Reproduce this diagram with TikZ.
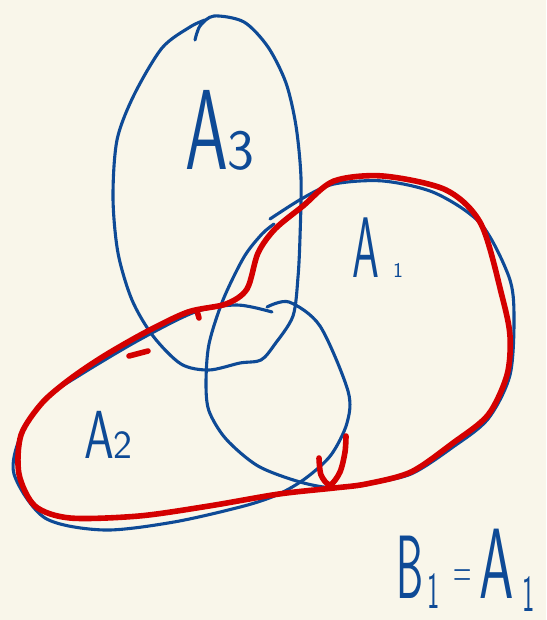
\documentclass[tikz,border=0pt]{standalone}
\usetikzlibrary{calc}
\definecolor{paper}{RGB}{249,246,234}
\definecolor{inkblue}{RGB}{14,74,150}
\definecolor{inkred}{RGB}{212,0,0}

\begin{document}
\begin{tikzpicture}[x=1pt,y=-1pt,
  bluepen/.style={inkblue,line width=3.1pt,line cap=round,line join=round},
  redpen/.style={inkred,line width=5.6pt,line cap=round,line join=round},
  lbl/.style={inkblue,font=\sffamily,inner sep=0pt,anchor=base west}]
  \fill[paper] (0,0) rectangle (546,620);
  \useasboundingbox (0,0) rectangle (546,620);
  \draw[bluepen] plot[smooth] coordinates {(195,40) (200,26) (214,16) (244,22) (268,47) (286,83) (296,126) (301,178) (300,237) (298,277) (293,316) (275,344) (261,360) (240,363) (209,370) (181,364) (153,336) (132,300) (118,253) (113,198) (117,140) (134,95) (162,48) (190,27) (205,20)};
  \draw[bluepen] plot[smooth] coordinates {(270,219) (303,198) (334,184) (383,181) (435,193) (481,224) (509,277) (514,316) (510,375) (488,419) (453,447) (411,474) (366,484) (334,488) (300,482) (258,466) (226,439) (209,411) (206,383) (209,344) (223,300) (244,257) (262,234) (274,224)};
  \draw[bluepen] plot[smooth] coordinates {(267,307) (289,302) (320,326) (348,391) (347,423) (331,455) (306,478) (279,494) (244,506) (174,522) (104,530) (45,518) (14,474) (21,435) (45,399) (80,375) (139,340) (195,312) (237,305) (272,312)};
  \draw[redpen] plot[smooth cycle] coordinates {(334,181) (383,176) (446,190) (481,224) (502,296) (510,336) (507,375) (488,415) (453,443) (411,472) (366,484) (334,488) (279,494) (209,506) (139,516) (70,518) (35,506) (19,474) (21,435) (42,403) (70,379) (104,356) (146,332) (188,312) (226,304) (247,289) (258,253) (275,229) (303,206)};
  \draw[redpen] plot[smooth] coordinates {(319,458) (321,475) (330,485) (340,472) (345,452) (346,436)};
  \draw[redpen] (197,311) -- (199,318);
  \draw[redpen] (129,356) -- (148,351);
  \node[lbl] (labelAthree) at (185,170) {\scalebox{0.6}[1]{\fontsize{114}{114}\selectfont A}\fontsize{57}{57}\selectfont 3};
  \node[lbl] (labelAone) at (352,277) {\scalebox{0.5}[1]{\fontsize{86}{86}\selectfont A}\fontsize{21}{21}\selectfont\kern14pt 1};
  \node[lbl] (labelAtwo) at (84,458) {\scalebox{0.7}[1]{\fontsize{68}{68}\selectfont A}\fontsize{40}{40}\selectfont 2};
  \node[lbl] (labelBone) at (396,598) {{\fontsize{90}{90}\selectfont\scalebox{0.48}[1]{B}}\kern4pt\raisebox{-10pt}{\fontsize{52}{52}\selectfont\scalebox{0.5}[1]{1}}\kern14pt\raisebox{11pt}{\fontsize{50}{50}\selectfont\scalebox{0.5}[1]{=}}\kern8pt{\fontsize{100}{100}\selectfont\scalebox{0.55}[1]{A}}\kern8pt\raisebox{-13pt}{\fontsize{52}{52}\selectfont\scalebox{0.5}[1]{1}}};
\end{tikzpicture}
\end{document}
